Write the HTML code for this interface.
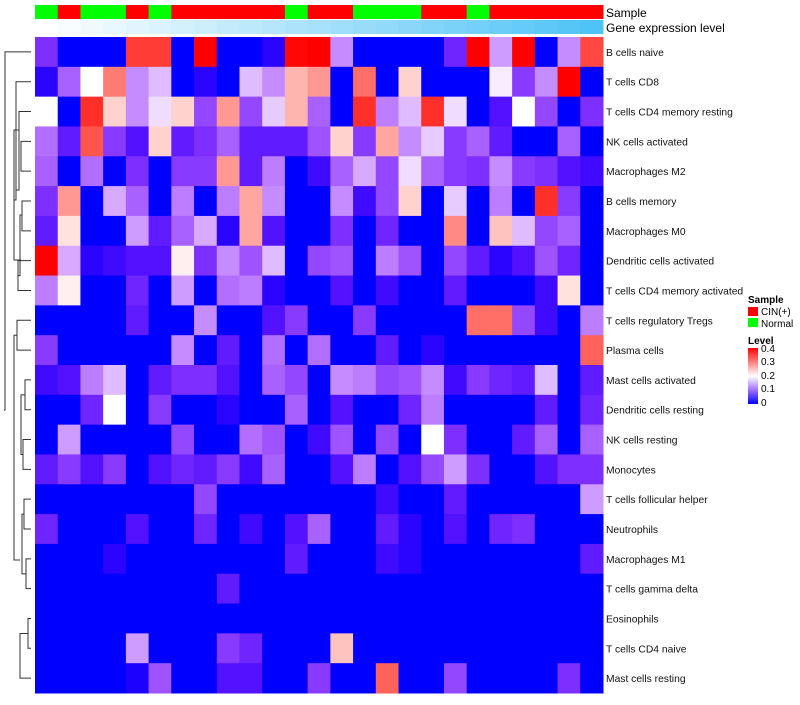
<!DOCTYPE html>
<html><head><meta charset="utf-8"><style>
body{margin:0;background:#fff;font-family:"Liberation Sans",sans-serif;}
</style></head><body>
<svg id="chart" width="800" height="700" xmlns="http://www.w3.org/2000/svg" font-family="Liberation Sans, sans-serif">
<g id="dendro" stroke="#333" fill="none" stroke-width="1"></g>
<g id="annot"></g>
<g id="cells"></g>
<g id="labels" font-size="10.3" fill="#111"></g>
<text x="606" y="17" font-size="12">Sample</text>
<text x="606" y="32" font-size="12">Gene expression level</text>
<g>
<text x="748" y="303" font-size="10" font-weight="bold">Sample</text>
<rect x="748" y="307" width="10" height="9" fill="#ff0000"/>
<text x="761" y="315" font-size="10">CIN(+)</text>
<rect x="748" y="318" width="10" height="9" fill="#00ff00"/>
<text x="761" y="327" font-size="10">Normal</text>
<text x="748" y="344" font-size="10" font-weight="bold">Level</text>
<defs><linearGradient id="lg" x1="0" y1="0" x2="0" y2="1"><stop offset="0" stop-color="#ff0000"/><stop offset="0.5" stop-color="#ffffff"/><stop offset="0.75" stop-color="#a070ff"/><stop offset="1" stop-color="#0000ff"/></linearGradient></defs>
<rect x="748" y="348" width="10" height="56" fill="url(#lg)"/>
<g font-size="10">
<text x="761" y="352">0.4</text><text x="761" y="365">0.3</text><text x="761" y="379">0.2</text><text x="761" y="392">0.1</text><text x="761" y="406">0</text>
</g>
</g>
</svg>
<script>
const rowNames=["B cells naive","T cells CD8","T cells CD4 memory resting","NK cells activated","Macrophages M2","B cells memory","Macrophages M0","Dendritic cells activated","T cells CD4 memory activated","T cells regulatory  Tregs","Plasma cells","Mast cells activated","Dendritic cells resting","NK cells resting","Monocytes","T cells follicular helper","Neutrophils","Macrophages M1","T cells gamma delta","Eosinophils","T cells CD4 naive","Mast cells resting"];
const sampleGroups=["N","C","N","N","C","N","C","C","C","C","C","N","C","C","N","N","N","C","C","N","C","C","C","C","C"];
const v0=[0.06,0,0,0,0.34,0.34,0,0.4,0,0,0.01,0.39,0.4,0.13,0,0,0,0,0.05,0.4,0.14,0.4,0,0.13,0.33];
const v1=[0.01,0.1,0.2,0.29,0.13,0.16,0,0.01,0,0.16,0.13,0.25,0.27,0,0.3,0,0.23,0,0,0,0.19,0.07,0.13,0.4,0];
const v2=[0.2,0,0.35,0.23,0.13,0.18,0.23,0.08,0.27,0.08,0.17,0.25,0.1,0,0.35,0.12,0.16,0.35,0.18,0,0.03,0.2,0.08,0,0.06];
const v3=[0.11,0.04,0.32,0.07,0.03,0.23,0.04,0.06,0.1,0.04,0.04,0.04,0.09,0.23,0.07,0.26,0.13,0.17,0.07,0.1,0.04,0,0,0.1,0];
const v4=[0.1,0,0.11,0,0.06,0,0.07,0.07,0.27,0.04,0.12,0,0.02,0.1,0.15,0.08,0.18,0.1,0.07,0.06,0.13,0.07,0.06,0.03,0.02];
const v5=[0.06,0.27,0,0.15,0.1,0,0.12,0,0.12,0.26,0.13,0,0,0.13,0.02,0.08,0.23,0,0.17,0,0.12,0,0.35,0.07,0];
const v6=[0.04,0.22,0,0,0.14,0.04,0.1,0.15,0.01,0.26,0.03,0,0,0.06,0,0.05,0,0,0.28,0,0.24,0.16,0.08,0.1,0];
const v7=[0.4,0.15,0.01,0.02,0.03,0.03,0.21,0.06,0.13,0.09,0.16,0,0.08,0.09,0,0.12,0.09,0,0.08,0.04,0.01,0.03,0.09,0.05,0];
const v8=[0.12,0.21,0,0,0.05,0,0.14,0,0.11,0.12,0.01,0,0,0.03,0,0.02,0,0,0.04,0,0,0,0.02,0.22,0];
const v9=[0,0,0,0,0.04,0,0,0.13,0,0,0.03,0.07,0,0,0.07,0,0,0,0,0.3,0.3,0.08,0.02,0,0.12];
const v10=[0.07,0,0,0,0,0,0.13,0,0.04,0,0.11,0,0.11,0,0,0.04,0,0.01,0,0,0,0,0,0,0.31];
const v11=[0.02,0.03,0.12,0.16,0,0.04,0.06,0.06,0.03,0,0.1,0.08,0,0.13,0.12,0.08,0.09,0.13,0.02,0.07,0.05,0.04,0.16,0,0.04];
const v12=[0,0,0.05,0.2,0,0.07,0,0,0.01,0,0,0.1,0,0.03,0,0,0.05,0.12,0,0,0,0,0.04,0,0.05];
const v13=[0,0.14,0,0,0,0,0.08,0,0,0.11,0.09,0,0.02,0.09,0,0.08,0,0.2,0.06,0,0,0.04,0.1,0,0.1];
const v14=[0.04,0.07,0.03,0.07,0,0.03,0.05,0.04,0.07,0.02,0.1,0,0,0.03,0.12,0,0.03,0.08,0.14,0.06,0,0,0.03,0.06,0.06];
const v15=[0,0,0,0,0,0,0,0.08,0,0,0,0,0,0,0,0.02,0,0,0.04,0,0,0,0,0,0.14];
const v16=[0.05,0,0,0,0.03,0,0,0.05,0,0.02,0,0.03,0.1,0,0,0.04,0.01,0,0.03,0,0.05,0.06,0,0,0];
const v17=[0,0,0,0.01,0,0,0,0,0,0,0,0.04,0,0,0,0.02,0.01,0,0,0,0,0,0,0,0.04];
const v18=[0,0,0,0,0,0,0,0,0.04,0,0,0,0,0,0,0,0,0,0,0,0,0,0,0,0];
const v19=[0,0,0,0,0,0,0,0,0,0,0,0,0,0,0,0,0,0,0,0,0,0,0,0,0];
const v20=[0,0,0,0,0.14,0,0,0,0.07,0.05,0,0,0,0.24,0,0,0,0,0,0,0,0,0,0,0];
const v21=[0,0,0,0,0.005,0.09,0,0,0.03,0.03,0,0,0.07,0,0,0.31,0,0,0.08,0,0,0,0,0.06,0];
const values=[v0,v1,v2,v3,v4,v5,v6,v7,v8,v9,v10,v11,v12,v13,v14,v15,v16,v17,v18,v19,v20,v21];

const NS="http://www.w3.org/2000/svg";
const X0=35,X1=603,Y0=37,Y1=693;
const nC=sampleGroups.length,nR=rowNames.length;
const cw=(X1-X0)/nC,rh=(Y1-Y0)/nR;
const xPos=c=>X0+c*cw, yPos=r=>Y0+r*rh;
function color(v){
  v=Math.max(0,Math.min(0.4,v));
  let r,g,b;
  if(v<=0.2){const t=v/0.2;r=255*Math.pow(t,0.6);g=255*Math.pow(t,1.4);b=255;}
  else{const t=(v-0.2)/0.2;r=255;g=255*Math.pow(1-t,1.2);b=255*Math.pow(1-t,1.3);}
  return `rgb(${Math.round(r)},${Math.round(g)},${Math.round(b)})`;
}
function mk(tag,attrs,parent){const e=document.createElementNS(NS,tag);for(const k in attrs)e.setAttribute(k,attrs[k]);parent.appendChild(e);return e;}
const cells=document.getElementById('cells');
values.forEach((row,r)=>row.forEach((v,c)=>{
  const e=mk('rect',{x:xPos(c),y:yPos(r),width:cw+0.5,height:rh+0.5,fill:color(v)},cells);
  
  
}));
const labels=document.getElementById('labels');
rowNames.forEach((n,r)=>{
  const t=mk('text',{x:606,y:yPos(r)+rh/2+4,'xml:space':'preserve'},labels);t.textContent=n;
  
  
});
const annot=document.getElementById('annot');
sampleGroups.forEach((s,c)=>{
  const e=mk('rect',{x:xPos(c),y:5,width:cw+0.5,height:14,fill:s==="C"?"#ff0000":"#00ff00"},annot);
  
  
  const t=c/(nC-1);
  const g=mk('rect',{x:xPos(c),y:20,width:cw+0.5,height:14,fill:`rgb(${Math.round(255-176*t)},${Math.round(255-60*t)},${Math.round(255-8*t)})`},annot);
  
  
});
const d=document.getElementById('dendro');
const cy=r=>yPos(r)+rh/2;
function link(x,ya,yb,xa,xb){mk('path',{d:`M${xa} ${ya}H${x}V${yb}H${xb}`},d);}
link(5,cy(0),410,31,4);
link(16,cy(1),200,31,14);
link(19,cy(2),190,31,16);
link(21,cy(3),cy(4),31,31);
link(14,130,260,19,21);
link(22,cy(5),cy(6),31,31);
link(18,cy(7),cy(8),31,31);
link(20,215,cy(7)+15,22,18);
link(17,cy(9),cy(10),31,31);
link(14,cy(9)+15,560,17,20);
link(25,cy(11),cy(12),31,31);
link(23,cy(13),cy(14),31,31);
link(21,cy(11)+15,cy(13)+15,25,23);
link(24,cy(15),cy(16),31,31);
link(26,cy(17),cy(18),31,31);
link(28,cy(19),cy(20),31,31);
link(22,cy(15)+15,cy(17)+15,24,26);
link(20,cy(19)+15,cy(21),28,31);
</script>
</body></html>
